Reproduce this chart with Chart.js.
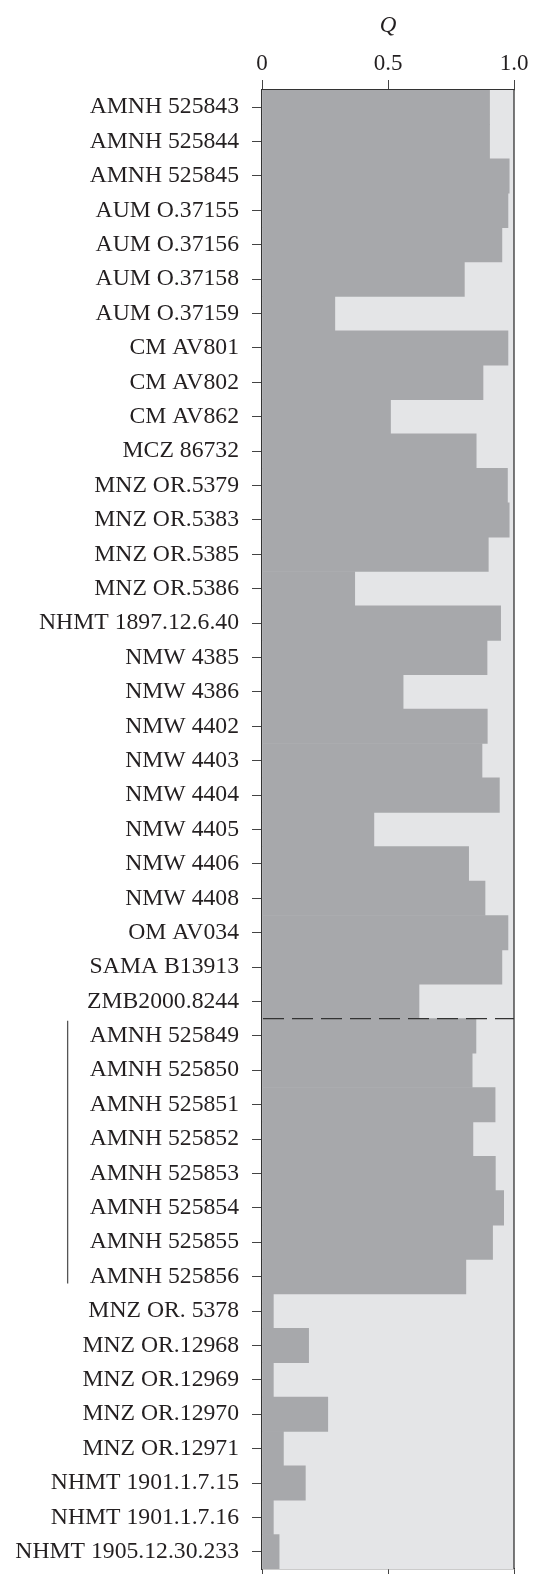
<!DOCTYPE html>
<html>
<head>
<meta charset="utf-8">
<script src="https://cdn.jsdelivr.net/npm/chart.js@4.4.0/dist/chart.umd.min.js"></script>
<style>
  html, body { margin: 0; padding: 0; background: #fff; }
  canvas { display: block; }
</style>
</head>
<body>
<canvas id="chart" width="534" height="1575"></canvas>
<script>
// specimen labels, top to bottom
const specimens = [
    "AMNH 525843", "AMNH 525844", "AMNH 525845", "AUM O.37155", "AUM O.37156",
    "AUM O.37158", "AUM O.37159", "CM AV801", "CM AV802", "CM AV862",
    "MCZ 86732", "MNZ OR.5379", "MNZ OR.5383", "MNZ OR.5385", "MNZ OR.5386",
    "NHMT 1897.12.6.40", "NMW 4385", "NMW 4386", "NMW 4402", "NMW 4403",
    "NMW 4404", "NMW 4405", "NMW 4406", "NMW 4408", "OM AV034",
    "SAMA B13913", "ZMB2000.8244",
    "AMNH 525849", "AMNH 525850", "AMNH 525851", "AMNH 525852", "AMNH 525853",
    "AMNH 525854", "AMNH 525855", "AMNH 525856",
    "MNZ OR. 5378", "MNZ OR.12968", "MNZ OR.12969", "MNZ OR.12970", "MNZ OR.12971",
    "NHMT 1901.1.7.15", "NHMT 1901.1.7.16", "NHMT 1905.12.30.233"
];

// admixture proportion Q per specimen
const qValues = [
    0.903, 0.903, 0.981, 0.976, 0.952,
    0.803, 0.289, 0.976, 0.877, 0.510,
    0.850, 0.974, 0.981, 0.898, 0.368,
    0.947, 0.893, 0.560, 0.894, 0.873,
    0.942, 0.444, 0.820, 0.885, 0.976,
    0.952, 0.623,
    0.849, 0.834, 0.925, 0.837, 0.926,
    0.959, 0.915, 0.809,
    0.045, 0.185, 0.045, 0.261, 0.085,
    0.172, 0.045, 0.068
];

const xTicks = [0, 0.5, 1.0];

// dashed divider sits after this row; bracket spans these rows
const dividerAfter = 26;
const bracketRows = [27, 34];

const DARK = "#a7a8ab";
const LIGHT = "#e4e5e7";
const INK = "#231f20";
const LINE = "#333333";
const FONT = "'Liberation Serif', 'Times New Roman', serif";
const LABEL_SIZE = 23.7;

const decorations = {
    id: "decorations",
    beforeDatasetsDraw(chart) {
        const { ctx, chartArea: a } = chart;
        ctx.save();
        ctx.fillStyle = LIGHT;
        ctx.fillRect(a.left, a.top, a.right - a.left, a.bottom - a.top);
        ctx.restore();
    },
    afterDraw(chart) {
        const { ctx, chartArea: a } = chart;
        const y = chart.scales.y;
        ctx.save();

        // right frame edge
        ctx.strokeStyle = LINE;
        ctx.lineWidth = 1.3;
        ctx.beginPath();
        ctx.moveTo(a.right, a.top);
        ctx.lineTo(a.right, a.bottom);
        ctx.stroke();

        // dashed divider between the two groups
        const yd = (y.getPixelForValue(dividerAfter) + y.getPixelForValue(dividerAfter + 1)) / 2;
        ctx.setLineDash([21, 8]);
        ctx.lineWidth = 1.4;
        ctx.beginPath();
        ctx.moveTo(a.left + 1, yd);
        ctx.lineTo(a.right, yd);
        ctx.stroke();
        ctx.setLineDash([]);

        // bracket left of the grouped labels
        ctx.font = LABEL_SIZE + "px " + FONT;
        let widest = 0;
        for (let i = bracketRows[0]; i <= bracketRows[1]; i++) {
            widest = Math.max(widest, ctx.measureText(specimens[i]).width);
        }
        const labelRight = y.right - 10 - 13;
        const xb = labelRight - widest - 22;
        const half = (y.getPixelForValue(1) - y.getPixelForValue(0)) / 2;
        ctx.strokeStyle = "#555";
        ctx.lineWidth = 1.3;
        ctx.beginPath();
        ctx.moveTo(xb, y.getPixelForValue(bracketRows[0]) - half + 2);
        ctx.lineTo(xb, y.getPixelForValue(bracketRows[1]) + half * 0.4);
        ctx.stroke();

        ctx.restore();
    }
};

new Chart(document.getElementById("chart"), {
    type: "bar",
    data: {
        labels: specimens,
        datasets: [{
            label: "Q",
            data: qValues,
            backgroundColor: DARK,
            borderWidth: 0,
            barPercentage: 1,
            categoryPercentage: 1,
            xAxisID: "x",
            yAxisID: "y"
        }]
    },
    options: {
        indexAxis: "y",
        responsive: false,
        animation: false,
        layout: { padding: 0 },
        plugins: { legend: { display: false }, tooltip: { enabled: false } },
        scales: {
            x: {
                type: "linear",
                position: "top",
                min: 0,
                max: 1,
                afterBuildTicks: s => { s.ticks = xTicks.map(v => ({ value: v })); },
                ticks: {
                    color: INK,
                    font: { family: FONT, size: 23 },
                    padding: 2,
                    callback: v => v === 0 ? "0" : v.toFixed(1)
                },
                grid: { drawOnChartArea: false, tickLength: 10, color: "#444", lineWidth: 1 },
                border: { color: LINE, width: 1.3 },
                title: {
                    display: true,
                    text: "Q",
                    color: INK,
                    font: { family: FONT, size: 23, style: "italic" },
                    padding: { top: 12, bottom: 0 }
                },
                afterFit: s => {
                    s.height = 90;
                    s.paddingLeft = 0;
                    s.paddingRight = 20;
                }
            },
            x2: {
                type: "linear",
                axis: "x",
                position: "bottom",
                min: 0,
                max: 1,
                afterBuildTicks: s => { s.ticks = xTicks.map(v => ({ value: v })); },
                ticks: { display: false },
                grid: { drawOnChartArea: false, tickLength: 5, color: "#444", lineWidth: 1 },
                border: { color: LINE, width: 1.3 },
                afterFit: s => {
                    s.height = 6;
                    s.paddingLeft = 0;
                    s.paddingRight = 0;
                }
            },
            y: {
                type: "category",
                ticks: {
                    color: INK,
                    font: { family: FONT, size: LABEL_SIZE },
                    padding: 13,
                    autoSkip: false
                },
                grid: { offset: false, drawOnChartArea: false, tickLength: 10, color: "#444", lineWidth: 1 },
                border: { color: LINE, width: 1.3 },
                afterFit: s => {
                    s.width = 262;
                    s.paddingTop = 0;
                    s.paddingBottom = 0;
                }
            }
        }
    },
    plugins: [decorations]
});
</script>
</body>
</html>
